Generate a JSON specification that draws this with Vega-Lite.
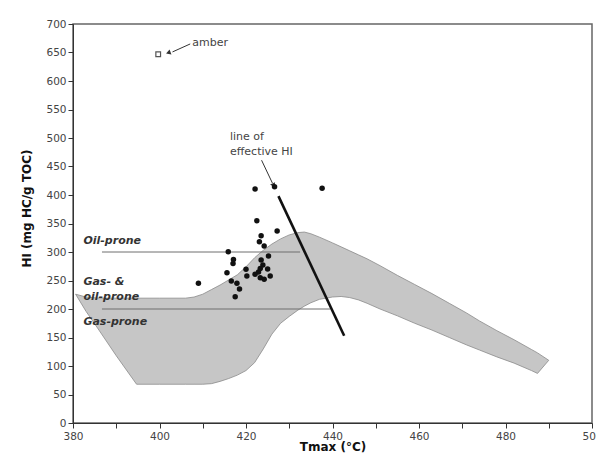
{
  "$schema": "https://vega.github.io/schema/vega-lite/v6.json",
  "width": 519,
  "height": 399,
  "autosize": {"type": "none"},
  "padding": {"left": 73, "top": 24, "right": 4, "bottom": 45},
  "background": "white",
  "config": {
    "font": "DejaVu Sans",
    "view": {"stroke": "#666", "strokeWidth": 1.5},
    "axis": {"domainColor": "#333", "tickColor": "#333", "labelColor": "#444", "labelFontSize": 10.5, "titleFontSize": 12, "titleFontWeight": "bold", "titleColor": "#111", "grid": false, "tickSize": 5, "labelOverlap": false}
  },
  "datasets": {
    "envelope": [
      {"T": 380.6, "HI": 226, "HI2": 226},
      {"T": 383, "HI": 221, "HI2": 196},
      {"T": 386, "HI": 219, "HI2": 163},
      {"T": 390, "HI": 219, "HI2": 118},
      {"T": 394.7, "HI": 219, "HI2": 68},
      {"T": 400, "HI": 219, "HI2": 68},
      {"T": 406, "HI": 219, "HI2": 68},
      {"T": 408, "HI": 221, "HI2": 68},
      {"T": 410, "HI": 226, "HI2": 68},
      {"T": 412, "HI": 234, "HI2": 69},
      {"T": 414, "HI": 242, "HI2": 73},
      {"T": 416, "HI": 251, "HI2": 78},
      {"T": 418, "HI": 260, "HI2": 84},
      {"T": 420, "HI": 274, "HI2": 92},
      {"T": 422, "HI": 290, "HI2": 106},
      {"T": 424, "HI": 303, "HI2": 130},
      {"T": 426, "HI": 314, "HI2": 156},
      {"T": 428, "HI": 323, "HI2": 175},
      {"T": 430, "HI": 330, "HI2": 187},
      {"T": 432, "HI": 334, "HI2": 198},
      {"T": 433.5, "HI": 335, "HI2": 205},
      {"T": 435, "HI": 332, "HI2": 211},
      {"T": 437, "HI": 326, "HI2": 217},
      {"T": 440, "HI": 316, "HI2": 221},
      {"T": 442, "HI": 309, "HI2": 222},
      {"T": 444, "HI": 302, "HI2": 220},
      {"T": 446, "HI": 295, "HI2": 216},
      {"T": 448, "HI": 288, "HI2": 210},
      {"T": 451, "HI": 276, "HI2": 200},
      {"T": 455, "HI": 259, "HI2": 188},
      {"T": 459, "HI": 243, "HI2": 175},
      {"T": 463, "HI": 227, "HI2": 163},
      {"T": 467, "HI": 210, "HI2": 150},
      {"T": 471, "HI": 193, "HI2": 137},
      {"T": 474, "HI": 179, "HI2": 128},
      {"T": 478, "HI": 162, "HI2": 116},
      {"T": 482, "HI": 146, "HI2": 105},
      {"T": 486, "HI": 129, "HI2": 92},
      {"T": 487.4, "HI": 123, "HI2": 87},
      {"T": 490, "HI": 110, "HI2": 110}
    ],
    "hlines": [
      {"T": 386.7, "T2": 432.5, "HI": 300},
      {"T": 386.7, "T2": 439.5, "HI": 200}
    ],
    "effline": [
      {"T": 427.5, "T2": 442.7, "HI": 398, "HI2": 153}
    ],
    "arrows": [
      {"T": 423.6, "T2": 426.1, "HI": 461, "HI2": 421},
      {"T": 407.1, "T2": 403.0, "HI": 665, "HI2": 651}
    ],
    "heads": [
      {"T": 426.3, "HI": 418, "ang": 155},
      {"T": 402.2, "HI": 650, "ang": 250}
    ],
    "samples": [
      {"T": 422.1, "HI": 410.5},
      {"T": 426.6, "HI": 414.6},
      {"T": 437.6, "HI": 411.7},
      {"T": 422.5, "HI": 355},
      {"T": 427.2, "HI": 337},
      {"T": 423.5, "HI": 328.6},
      {"T": 423.1, "HI": 318},
      {"T": 424.2, "HI": 310.5},
      {"T": 415.9, "HI": 300.5},
      {"T": 417.1, "HI": 287},
      {"T": 417.0, "HI": 280},
      {"T": 415.6, "HI": 263.7},
      {"T": 416.6, "HI": 249},
      {"T": 417.9, "HI": 245},
      {"T": 418.5, "HI": 235},
      {"T": 417.5, "HI": 221.6},
      {"T": 409.0, "HI": 245},
      {"T": 420.0, "HI": 269.6},
      {"T": 420.2, "HI": 258},
      {"T": 425.2, "HI": 293},
      {"T": 423.5, "HI": 286},
      {"T": 423.9, "HI": 277},
      {"T": 422.9, "HI": 265},
      {"T": 422.1, "HI": 261},
      {"T": 423.3, "HI": 255},
      {"T": 424.2, "HI": 252},
      {"T": 425.6, "HI": 258},
      {"T": 425.0, "HI": 270},
      {"T": 423.3, "HI": 271}
    ],
    "amber": [{"T": 399.7, "HI": 647}],
    "zonelabels": [
      {"T": 382.4, "HI": 319, "label": "Oil-prone"},
      {"T": 382.4, "HI": 248, "label": "Gas- &"},
      {"T": 382.4, "HI": 221.5, "label": "oil-prone"},
      {"T": 382.4, "HI": 178, "label": "Gas-prone"}
    ],
    "notes": [
      {"T": 407.6, "HI": 666, "label": "amber"},
      {"T": 416.3, "HI": 502, "label": "line of"},
      {"T": 416.3, "HI": 476, "label": "effective HI"}
    ]
  },
  "encoding": {
    "x": {"field": "T", "type": "quantitative", "title": "Tmax (°C)",
      "scale": {"domain": [380, 500], "nice": false, "zero": false},
      "axis": {"values": [380, 390, 400, 410, 420, 430, 440, 450, 460, 470, 480, 490, 500], "labelExpr": "datum.value % 20 == 0 ? datum.label : ''", "labelPadding": 3, "titlePadding": 0, "labelFlush": false}},
    "y": {"field": "HI", "type": "quantitative", "title": "HI (mg HC/g TOC)",
      "scale": {"domain": [0, 700], "nice": false},
      "axis": {"values": [0, 50, 100, 150, 200, 250, 300, 350, 400, 450, 500, 550, 600, 650, 700], "labelPadding": 2, "titlePadding": 12, "titleY": 184}}
  },
  "layer": [
    {
      "data": {"name": "envelope"},
      "mark": {"type": "area", "fill": "#c6c6c6", "stroke": "#8a8a8a", "strokeWidth": 0.8, "interpolate": "linear"},
      "encoding": {"y2": {"field": "HI2"}}
    },
    {
      "data": {"name": "hlines"},
      "mark": {"type": "rule", "color": "#6e6e6e", "strokeWidth": 1},
      "encoding": {"x2": {"field": "T2"}}
    },
    {
      "data": {"name": "effline"},
      "mark": {"type": "rule", "color": "#111", "strokeWidth": 2.6},
      "encoding": {"x2": {"field": "T2"}, "y2": {"field": "HI2"}}
    },
    {
      "data": {"name": "arrows"},
      "mark": {"type": "rule", "color": "#333", "strokeWidth": 1},
      "encoding": {"x2": {"field": "T2"}, "y2": {"field": "HI2"}}
    },
    {
      "data": {"name": "heads"},
      "mark": {"type": "point", "shape": "triangle", "filled": true, "color": "#333", "size": 30, "opacity": 1},
      "encoding": {"angle": {"field": "ang", "type": "quantitative", "scale": null}}
    },
    {
      "data": {"name": "samples"},
      "mark": {"type": "circle", "color": "#111", "size": 30, "opacity": 1}
    },
    {
      "data": {"name": "amber"},
      "mark": {"type": "square", "filled": false, "color": "#555", "size": 22, "strokeWidth": 1.2, "opacity": 1}
    },
    {
      "data": {"name": "zonelabels"},
      "mark": {"type": "text", "align": "left", "baseline": "middle", "fontSize": 11, "fontStyle": "italic", "fontWeight": "bold", "color": "#333"},
      "encoding": {"text": {"field": "label"}}
    },
    {
      "data": {"name": "notes"},
      "mark": {"type": "text", "align": "left", "baseline": "middle", "fontSize": 11, "color": "#444"},
      "encoding": {"text": {"field": "label"}}
    }
  ]
}
